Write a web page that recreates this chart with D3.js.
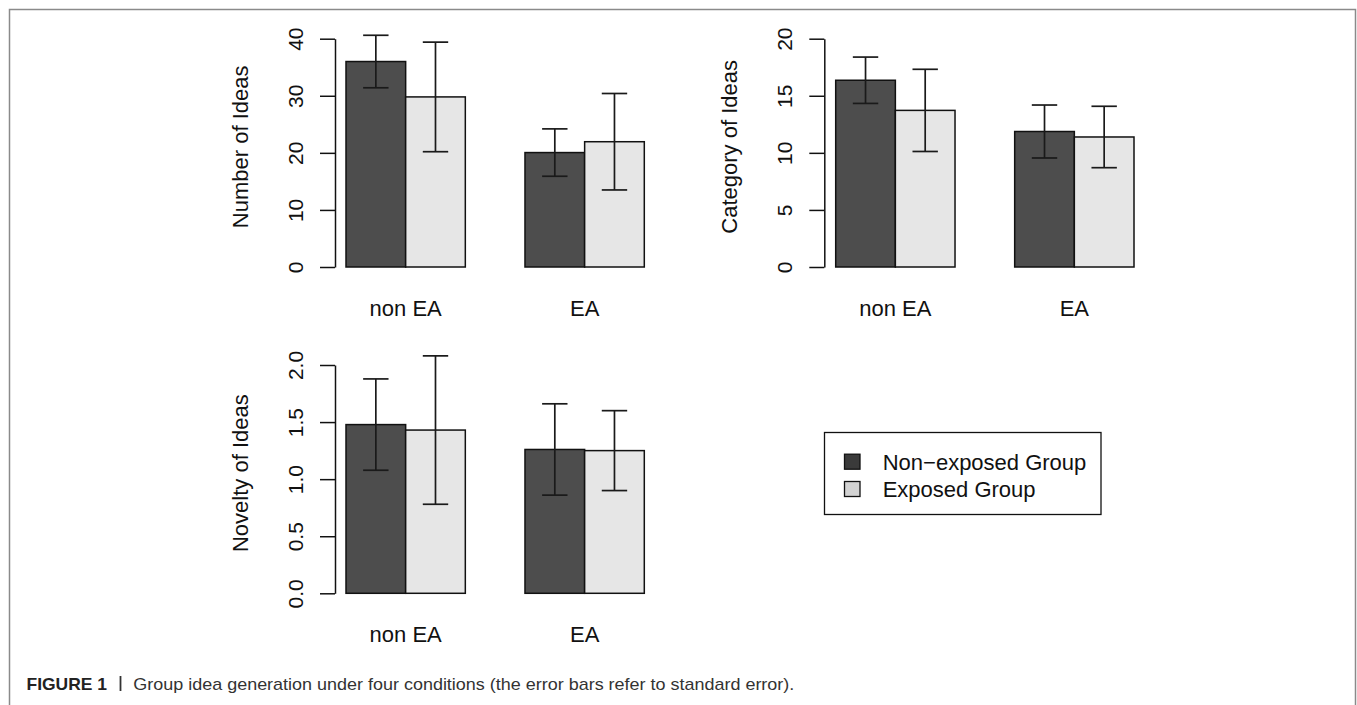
<!DOCTYPE html>
<html>
<head>
<meta charset="utf-8">
<script src="https://cdn.jsdelivr.net/npm/d3@7"></script>
<style>
  html, body { margin: 0; padding: 0; background: #fff; }
  svg { display: block; font-family: "Liberation Sans", Arial, Helvetica, sans-serif; }
</style>
</head>
<body>
<svg id="chart" width="1357" height="705"></svg>
<script>
// ---------------- data ----------------
const groups = ["non EA", "EA"];
const seriesNames = ["Non\u2212exposed Group", "Exposed Group"];
const seriesColors = ["#4d4d4d", "#e6e6e6"];

// Number of Ideas
const numberNonExposed   = [36.0, 20.05];
const numberNonExposedSE = [4.6, 4.15];
const numberExposed      = [29.8, 21.95];
const numberExposedSE    = [9.6, 8.45];
const numberTicks        = [0, 10, 20, 30, 40];

// Category of Ideas
const categoryNonExposed   = [16.36, 11.87];
const categoryNonExposedSE = [2.03, 2.32];
const categoryExposed      = [13.72, 11.39];
const categoryExposedSE    = [3.6, 2.69];
const categoryTicks        = [0, 5, 10, 15, 20];

// Novelty of Ideas
const noveltyNonExposed   = [1.478, 1.26];
const noveltyNonExposedSE = [0.40, 0.40];
const noveltyExposed      = [1.43, 1.25];
const noveltyExposedSE    = [0.65, 0.35];
const noveltyTicks        = [0.0, 0.5, 1.0, 1.5, 2.0];

const captionBold = "FIGURE 1";
const captionText = "Group idea generation under four conditions (the error bars refer to standard error).";

// ---------------- layout ----------------
const panels = [
  { label: "Number of Ideas", means: [numberNonExposed, numberExposed], ses: [numberNonExposedSE, numberExposedSE],
    ticks: numberTicks, fmt: d3.format("d"), axisX: 335, barX: [346, 644.3], yRange: [267, 38.7] },
  { label: "Category of Ideas", means: [categoryNonExposed, categoryExposed], ses: [categoryNonExposedSE, categoryExposedSE],
    ticks: categoryTicks, fmt: d3.format("d"), axisX: 824.3, barX: [835.7, 1134], yRange: [267, 38.7] },
  { label: "Novelty of Ideas", means: [noveltyNonExposed, noveltyExposed], ses: [noveltyNonExposedSE, noveltyExposedSE],
    ticks: noveltyTicks, fmt: d3.format(".1f"), axisX: 335, barX: [346, 644.3], yRange: [593.3, 365] }
];

const svg = d3.select("#chart");

// figure frame
svg.append("path")
  .attr("d", "M9.5,712 V9.5 H1355.5 V712")
  .attr("fill", "none").attr("stroke", "#8a8a8a").attr("stroke-width", 1.5);

const FS = 21;

panels.forEach(p => {
  const g = svg.append("g");
  const y = d3.scaleLinear().domain([p.ticks[0], p.ticks[p.ticks.length - 1]]).range(p.yRange);
  const x0 = d3.scaleBand().domain(groups).range(p.barX).paddingInner(1/3).paddingOuter(0);
  const x1 = d3.scaleBand().domain(d3.range(seriesNames.length)).range([0, x0.bandwidth()]).padding(0);

  // y axis
  const axis = d3.axisLeft(y).tickValues(p.ticks).tickFormat(p.fmt).tickSize(15).tickSizeOuter(0);
  const ax = g.append("g").attr("transform", `translate(${p.axisX},0)`).call(axis);
  ax.select(".domain").attr("stroke", "#111").attr("stroke-width", 1.5);
  ax.selectAll(".tick line").attr("stroke", "#111").attr("stroke-width", 1.5);
  ax.selectAll(".tick text")
    .attr("font-size", FS).attr("fill", "#111")
    .attr("font-family", '"Liberation Sans", Arial, sans-serif')
    .attr("x", null).attr("dy", null)
    .attr("text-anchor", "middle")
    .attr("transform", "translate(-32,0) rotate(-90)");

  // y label
  const cy = (p.yRange[0] + p.yRange[1]) / 2 - 6;
  g.append("text")
    .attr("transform", `translate(${p.axisX - 87},${cy}) rotate(-90)`)
    .attr("text-anchor", "middle")
    .attr("font-size", 22).attr("fill", "#111")
    .text(p.label);

  // bars
  groups.forEach((grp, gi) => {
    seriesNames.forEach((s, si) => {
      const v = p.means[si][gi];
      const bx = x0(grp) + x1(si);
      const bw = x1.bandwidth();
      g.append("rect")
        .attr("x", bx).attr("y", y(v))
        .attr("width", bw).attr("height", y(0) - y(v))
        .attr("fill", seriesColors[si]).attr("stroke", "#111").attr("stroke-width", 1.5);
    });
  });
  // error bars
  groups.forEach((grp, gi) => {
    seriesNames.forEach((s, si) => {
      const v = p.means[si][gi];
      const se = p.ses[si][gi];
      const cx = x0(grp) + x1(si) + x1.bandwidth() / 2;
      const hi = y(v + se), lo = y(v - se);
      const eg = g.append("g").attr("stroke", "#1a1a1a").attr("stroke-width", 1.7).attr("fill", "none");
      eg.append("line").attr("x1", cx).attr("x2", cx).attr("y1", hi).attr("y2", lo);
      eg.append("line").attr("x1", cx - 12.7).attr("x2", cx + 12.7).attr("y1", hi).attr("y2", hi);
      eg.append("line").attr("x1", cx - 12.7).attr("x2", cx + 12.7).attr("y1", lo).attr("y2", lo);
    });
  });

  // x labels
  groups.forEach(grp => {
    g.append("text")
      .attr("x", x0(grp) + x0.bandwidth() / 2)
      .attr("y", p.yRange[0] + 49)
      .attr("text-anchor", "middle")
      .attr("font-size", 22).attr("fill", "#111")
      .text(grp);
  });
});

// legend
const lg = svg.append("g");
lg.append("rect").attr("x", 824.5).attr("y", 432.5).attr("width", 276.5).attr("height", 82)
  .attr("fill", "#fff").attr("stroke", "#111").attr("stroke-width", 1.3);
const legY = d3.scalePoint().domain(seriesNames).range([461.7, 489]);
seriesNames.forEach((s, i) => {
  lg.append("rect").attr("x", 844.5).attr("y", legY(s) - 7.5).attr("width", 15.5).attr("height", 15)
    .attr("fill", i === 0 ? "#3a3a3a" : "#d2d2d2").attr("stroke", "#111").attr("stroke-width", 1.3);
  lg.append("text").attr("x", 882.7).attr("y", legY(s)).attr("dy", "0.36em")
    .attr("font-size", 22).attr("fill", "#111").text(s);
});

// caption
const cap = svg.append("g");
const cb = cap.append("text").attr("x", 26.5).attr("y", 690)
  .attr("font-size", 17).attr("font-weight", "bold").attr("fill", "#222").text(captionBold);
cb.attr("textLength", 80.5).attr("lengthAdjust", "spacingAndGlyphs");
cap.append("line").attr("x1", 120.5).attr("x2", 120.5).attr("y1", 676).attr("y2", 691)
  .attr("stroke", "#333").attr("stroke-width", 1.8);
const ct = cap.append("text").attr("x", 133.3).attr("y", 690)
  .attr("font-size", 17).attr("fill", "#333").text(captionText);
ct.attr("textLength", 661).attr("lengthAdjust", "spacingAndGlyphs");
</script>
</body>
</html>
